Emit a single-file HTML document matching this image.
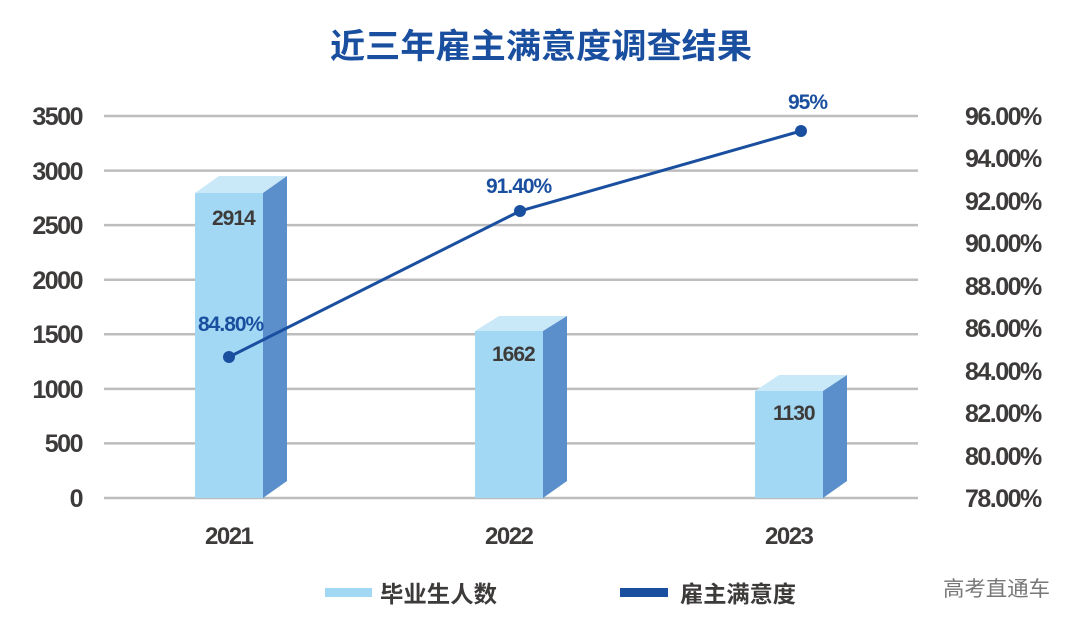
<!DOCTYPE html>
<html><head><meta charset="utf-8"><style>
html,body{margin:0;padding:0;background:#fff;}
svg text{font-family:"Liberation Sans","Noto Sans CJK SC",sans-serif;font-weight:bold;}
</style></head><body>
<svg width="1080" height="628" viewBox="0 0 1080 628" xmlns="http://www.w3.org/2000/svg">
<text x="330" y="58" font-size="34" fill="#1a4fa0" font-weight="900" textLength="422" lengthAdjust="spacingAndGlyphs">近三年雇主满意度调查结果</text>
<g stroke="#bdbdbd" stroke-width="2.5">
<line x1="104" y1="116" x2="918" y2="116"/>
<line x1="104" y1="170.6" x2="918" y2="170.6"/>
<line x1="104" y1="225.1" x2="918" y2="225.1"/>
<line x1="104" y1="279.7" x2="918" y2="279.7"/>
<line x1="104" y1="334.3" x2="918" y2="334.3"/>
<line x1="104" y1="388.9" x2="918" y2="388.9"/>
<line x1="104" y1="443.4" x2="918" y2="443.4"/>
<line x1="104" y1="498" x2="918" y2="498"/>
</g>
<g font-size="25" fill="#3d3a3a" text-anchor="end" letter-spacing="-1.5">
<text x="82" y="125">3500</text><text x="82" y="180">3000</text><text x="82" y="234">2500</text>
<text x="82" y="289">2000</text><text x="82" y="343">1500</text><text x="82" y="398">1000</text>
<text x="82" y="452">500</text><text x="82" y="507">0</text>
</g>
<g font-size="25" fill="#3d3a3a" letter-spacing="-1.5">
<text x="965" y="125">96.00%</text><text x="965" y="167">94.00%</text><text x="965" y="210">92.00%</text>
<text x="965" y="252">90.00%</text><text x="965" y="295">88.00%</text><text x="965" y="337">86.00%</text>
<text x="965" y="380">84.00%</text><text x="965" y="422">82.00%</text><text x="965" y="465">80.00%</text>
<text x="965" y="507">78.00%</text>
</g>
<g>
<polygon points="195,193 219,176 287,176 263,193" fill="#c9e8f8"/>
<rect x="195" y="193" width="68" height="305" fill="#a3d8f4"/>
<polygon points="263,193 287,176 287,481 263,498" fill="#5b8fcc"/>
<polygon points="475,331 499,316 567,316 543,331" fill="#c9e8f8"/>
<rect x="475" y="331" width="68" height="167" fill="#a3d8f4"/>
<polygon points="543,331 567,316 567,481 543,498" fill="#5b8fcc"/>
<polygon points="755,391 779,375 847,375 823,391" fill="#c9e8f8"/>
<rect x="755" y="391" width="68" height="107" fill="#a3d8f4"/>
<polygon points="823,391 847,375 847,481 823,498" fill="#5b8fcc"/>
</g>
<g font-size="21" fill="#3d3a3a" letter-spacing="-1">
<text x="212" y="225">2914</text>
<text x="492" y="361">1662</text>
<text x="773" y="420">1130</text>
</g>
<polyline points="229,357 520,211 801,131" fill="none" stroke="#1a4fa0" stroke-width="3"/>
<g fill="#1a4fa0"><circle cx="229" cy="357" r="6"/><circle cx="520" cy="211" r="6"/><circle cx="801" cy="131" r="6"/></g>
<g font-size="21" fill="#1a4fa0" letter-spacing="-1">
<text x="198" y="331">84.80%</text>
<text x="486" y="193">91.40%</text>
<text x="788" y="109">95%</text>
</g>
<g font-size="24" fill="#3d3a3a" letter-spacing="-1.5">
<text x="205" y="544">2021</text>
<text x="485" y="544">2022</text>
<text x="765" y="544">2023</text>
</g>
<rect x="325" y="588" width="47" height="9" fill="#a3d8f4"/>
<text x="380" y="602" font-size="23" fill="#3d3a3a" font-weight="900" textLength="117" lengthAdjust="spacingAndGlyphs">毕业生人数</text>
<rect x="620" y="588" width="48" height="9" fill="#1a4fa0"/>
<text x="680" y="602" font-size="23" fill="#3d3a3a" font-weight="900" textLength="116" lengthAdjust="spacingAndGlyphs">雇主满意度</text>
<text x="943" y="596" font-size="21" fill="#777" style="font-weight:normal" textLength="107" lengthAdjust="spacingAndGlyphs">高考直通车</text>
</svg>
</body></html>
